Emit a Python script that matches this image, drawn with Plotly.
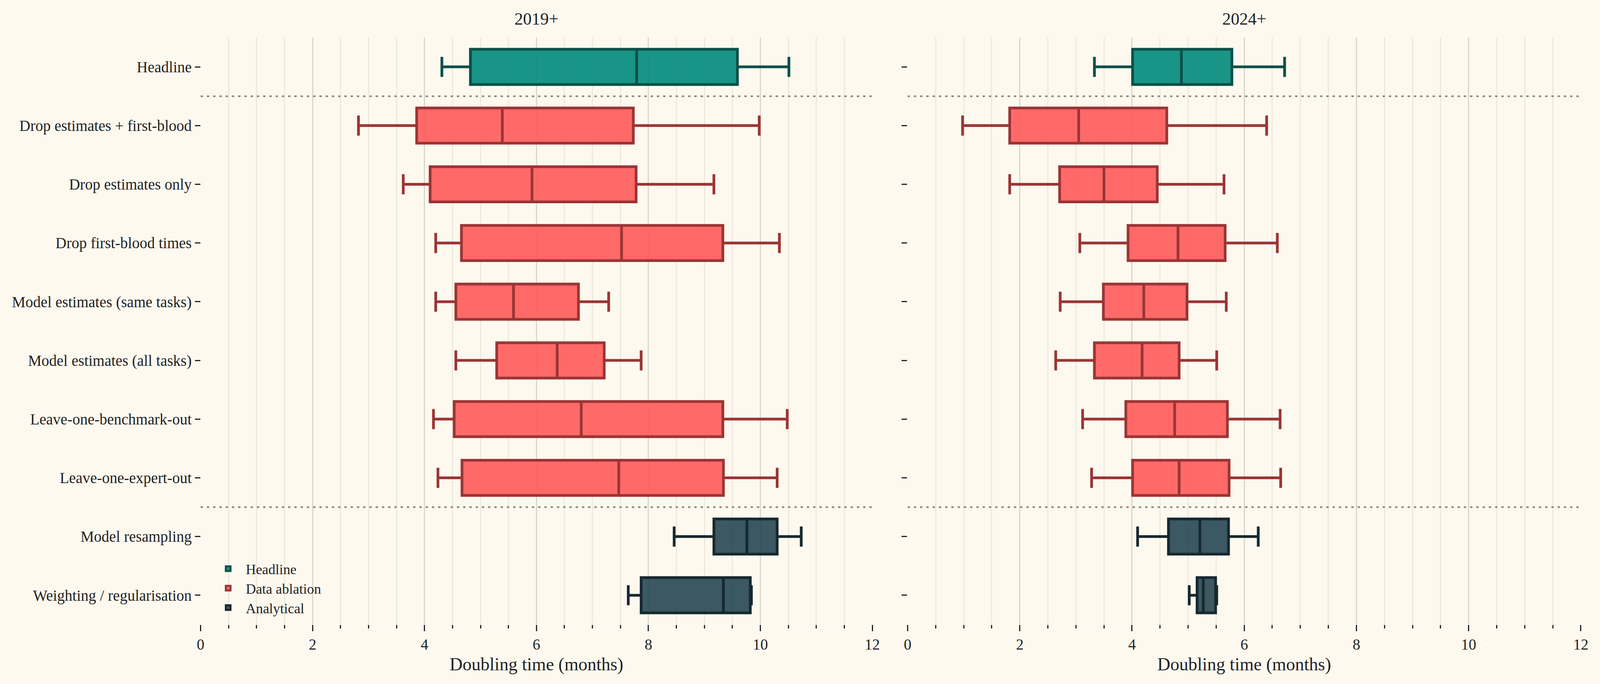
import plotly.graph_objects as go
from plotly.subplots import make_subplots

# ---------------- data ----------------
categories = [
    "Headline",
    "Drop estimates + first-blood",
    "Drop estimates only",
    "Drop first-blood times",
    "Model estimates (same tasks)",
    "Model estimates (all tasks)",
    "Leave-one-benchmark-out",
    "Leave-one-expert-out",
    "Model resampling",
    "Weighting / regularisation",
]
groups = ["Headline", "Data ablation", "Data ablation", "Data ablation", "Data ablation",
          "Data ablation", "Data ablation", "Data ablation", "Analytical", "Analytical"]
group_names = ["Headline", "Data ablation", "Analytical"]
panel_titles = ["2019+", "2024+"]

# 2019+ : lower whisker, q1, median, q3, upper whisker (months)
lo_2019 = [4.31, 2.82, 3.62, 4.20, 4.20, 4.56, 4.16, 4.24, 8.46, 7.64]
q1_2019 = [4.82, 3.86, 4.10, 4.66, 4.56, 5.29, 4.53, 4.67, 9.17, 7.87]
med_2019 = [7.79, 5.39, 5.92, 7.52, 5.59, 6.37, 6.80, 7.47, 9.76, 9.34]
q3_2019 = [9.59, 7.73, 7.78, 9.33, 6.75, 7.21, 9.33, 9.34, 10.30, 9.82]
hi_2019 = [10.51, 9.98, 9.17, 10.34, 7.29, 7.87, 10.48, 10.30, 10.73, 9.84]

# 2024+
lo_2024 = [3.33, 0.98, 1.82, 3.07, 2.72, 2.64, 3.12, 3.28, 4.10, 5.02]
q1_2024 = [4.01, 1.82, 2.71, 3.93, 3.49, 3.33, 3.89, 4.01, 4.65, 5.16]
med_2024 = [4.88, 3.05, 3.50, 4.82, 4.21, 4.18, 4.76, 4.84, 5.21, 5.27]
q3_2024 = [5.78, 4.62, 4.45, 5.66, 4.98, 4.84, 5.70, 5.73, 5.72, 5.49]
hi_2024 = [6.72, 6.40, 5.64, 6.59, 5.68, 5.51, 6.64, 6.65, 6.25, 5.51]

x_ticks = [0, 2, 4, 6, 8, 10, 12]

# ---------------- styles ----------------
BG = "#fdf9ef"
TXT = "#222222"
FONT = "Liberation Serif"
fills = {"Headline": "rgba(0,137,123,0.9)",
         "Data ablation": "rgba(255,90,90,0.9)",
         "Analytical": "rgba(38,70,83,0.9)"}
edges = {"Headline": "#0b5048",
         "Data ablation": "#9b3535",
         "Analytical": "#17282f"}

W, H = 4171, 1750
fig = make_subplots(rows=1, cols=2, shared_yaxes=True)

panels = [
    (lo_2019, q1_2019, med_2019, q3_2019, hi_2019),
    (lo_2024, q1_2024, med_2024, q3_2024, hi_2024),
]

for pi, (lo, q1, med, q3, hi) in enumerate(panels):
    for g in group_names:
        idx = [i for i, gg in enumerate(groups) if gg == g]
        fig.add_trace(
            go.Box(
                y=[categories[i] for i in idx],
                lowerfence=[lo[i] for i in idx],
                q1=[q1[i] for i in idx],
                median=[med[i] for i in idx],
                q3=[q3[i] for i in idx],
                upperfence=[hi[i] for i in idx],
                orientation="h",
                name=g,
                legendgroup=g,
                showlegend=(pi == 0),
                fillcolor=fills[g],
                line=dict(color=edges[g], width=7),
                width=0.6,
                whiskerwidth=0.57,
                boxpoints=False,
                hoverinfo="skip",
            ),
            row=1, col=pi + 1,
        )

# separator lines between groups
boundaries = [i - 0.5 for i in range(1, len(groups)) if groups[i] != groups[i - 1]]
shapes = []
for xr in ["x", "x2"]:
    for b in boundaries:
        shapes.append(dict(type="line", xref=f"{xr} domain", yref="y",
                           x0=0, x1=1, y0=b, y1=b,
                           line=dict(color="#858178", width=4, dash="6px,10px"),
                           layer="above"))

dom_y = [1 - 1598 / H, 1 - 96 / H]
dom_x1 = [523 / W, 2274 / W]
dom_x2 = [2366 / W, 4121 / W]

xaxis_common = dict(
    range=[0, 12],
    tickvals=x_ticks,
    ticks="outside", ticklen=16, tickwidth=3, tickcolor=TXT,
    showgrid=True, gridcolor="#d9d6cc", gridwidth=3,
    minor=dict(dtick=0.5, ticks="outside", ticklen=9, tickwidth=2.5, tickcolor=TXT,
               showgrid=True, gridcolor="#ede9dd", gridwidth=2.5),
    zeroline=False, showline=False,
    tickfont=dict(family=FONT, size=39, color=TXT),
    title=dict(text="Doubling time (months)", font=dict(family=FONT, size=46, color=TXT),
               standoff=14),
    automargin=False,
    fixedrange=True,
)

fig.update_layout(
    autosize=True,
    paper_bgcolor=BG, plot_bgcolor=BG,
    margin=dict(l=0, r=0, t=0, b=0),
    boxmode="overlay",
    font=dict(family=FONT, color=TXT),
    xaxis=dict(domain=dom_x1, **xaxis_common),
    xaxis2=dict(domain=dom_x2, **xaxis_common),
    yaxis=dict(domain=dom_y, categoryorder="array", categoryarray=categories,
               range=[len(categories) - 0.5, -0.5],
               ticks="outside", ticklen=14, tickwidth=3, tickcolor=TXT,
               showgrid=False, zeroline=False, showline=False,
               tickfont=dict(family=FONT, size=39, color=TXT), automargin=False),
    yaxis2=dict(domain=dom_y, matches="y", showticklabels=False,
                ticks="outside", ticklen=14, tickwidth=3, tickcolor=TXT,
                showgrid=False, zeroline=False, showline=False, automargin=False),
    shapes=shapes,
    legend=dict(x=549 / W, y=1 - 1425 / H, xanchor="left", yanchor="top",
                bgcolor="rgba(0,0,0,0)", font=dict(family=FONT, size=36, color=TXT),
                tracegroupgap=0, itemwidth=80),
    annotations=[
        dict(text=panel_titles[0], x=0.5, xref="x domain", y=1 - 48 / H, yref="paper",
             showarrow=False, xanchor="center", yanchor="middle",
             font=dict(family=FONT, size=44, color=TXT)),
        dict(text=panel_titles[1], x=0.5, xref="x2 domain", y=1 - 48 / H, yref="paper",
             showarrow=False, xanchor="center", yanchor="middle",
             font=dict(family=FONT, size=44, color=TXT)),
    ],
)

fig.write_html(
    "out.html",
    default_width="100vw",
    default_height="100vh",
    config={"displayModeBar": False, "responsive": True},
    post_script="document.body.style.margin='0';document.body.style.overflow='hidden';"
                "window.dispatchEvent(new Event('resize'));",
)
